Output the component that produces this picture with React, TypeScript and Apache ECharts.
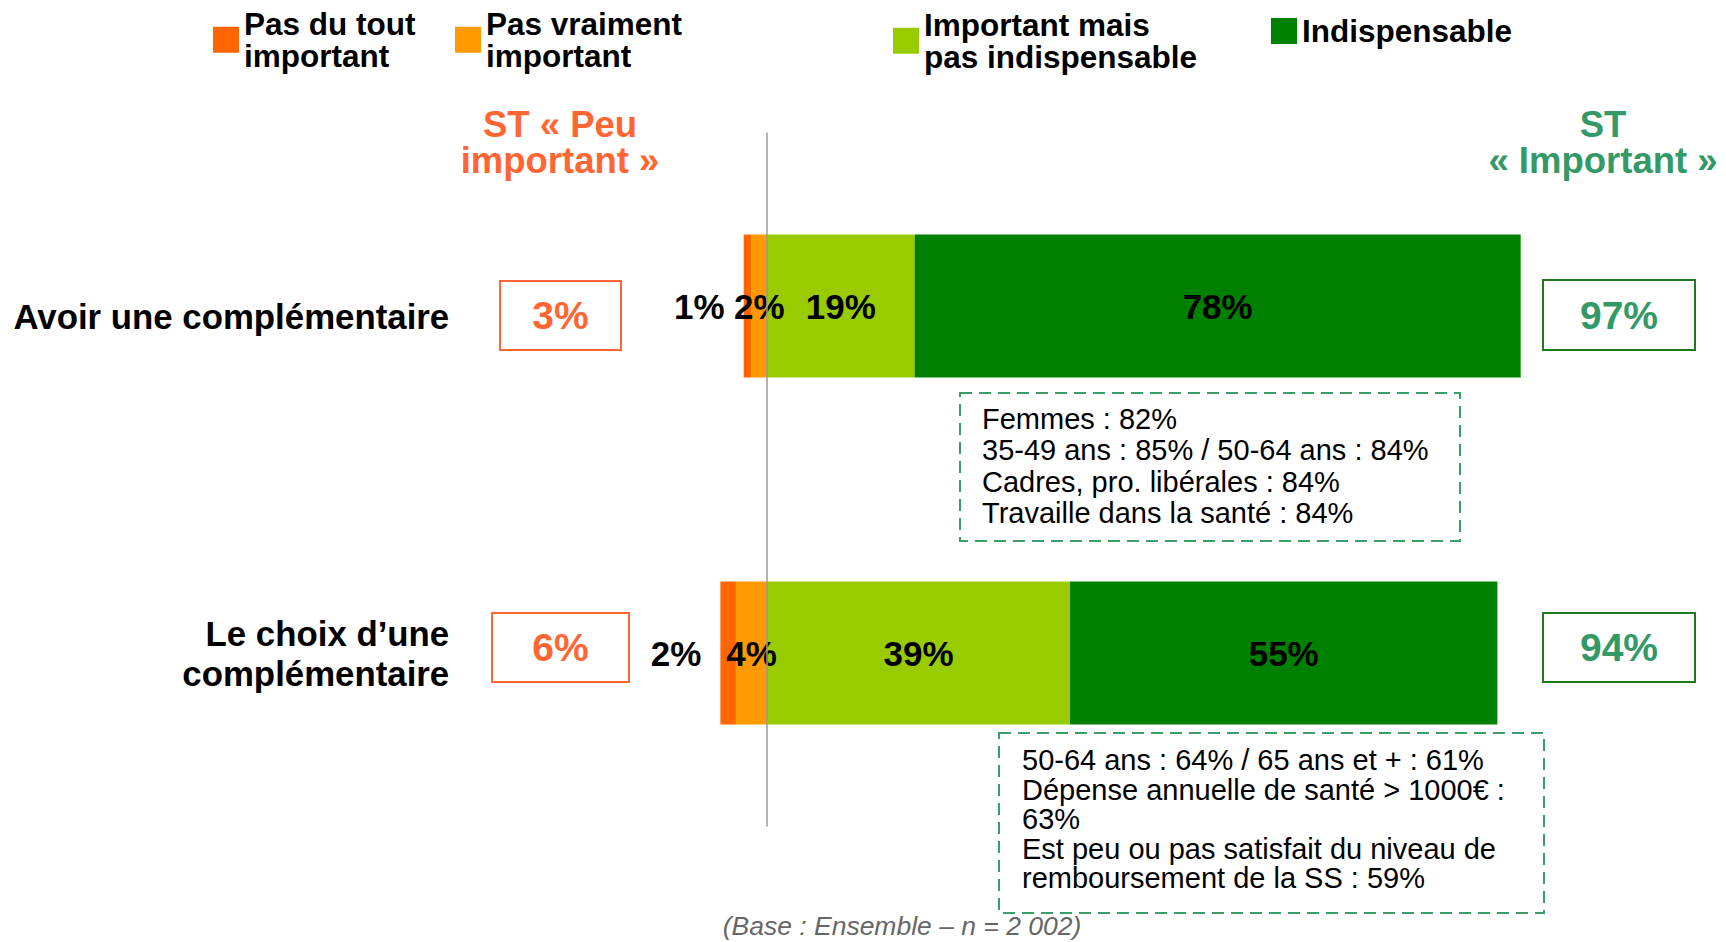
import React, { useEffect, useRef } from "react";
import * as echarts from "echarts";

const categories = ["Avoir une complémentaire", "Le choix d’une\ncomplémentaire"];
const seriesNames = [
  "Pas du tout\nimportant",
  "Pas vraiment\nimportant",
  "Important mais\npas indispensable",
  "Indispensable",
];
// "Peu important" answers are drawn on the left of the zero line
const pasDuTout = [1, 2];
const pasVraiment = [2, 4];
const importantMais = [19, 39];
const indispensable = [78, 55];
const seriesColors = ["#FF6600", "#FF9900", "#99CC00", "#008000"];

const stPeuTitle = "ST « Peu\nimportant »";
const stImportantTitle = "ST\n« Important »";

const notesAvoir = [
  "Femmes : 82%",
  "35-49 ans : 85% / 50-64 ans : 84%",
  "Cadres, pro. libérales : 84%",
  "Travaille dans la santé : 84%",
];
const notesChoix = [
  "50-64 ans : 64% / 65 ans et + : 61%",
  "Dépense annuelle de santé > 1000€ :",
  "63%",
  "Est peu ou pas satisfait du niveau de",
  "remboursement de la SS : 59%",
];
const baseNote = "(Base : Ensemble – n = 2 002)";

const FONT = "'Liberation Sans', Arial, Helvetica, sans-serif";
const ORANGE_TXT = "#FF6633";
const GREEN_TXT = "#339966";

export default function App() {
  const ref = useRef<HTMLDivElement>(null);

  useEffect(() => {
    if (!ref.current) return;
    const chart = echarts.init(ref.current, undefined, { renderer: "svg" });
    const stLow = pasDuTout.map((v, i) => v + pasVraiment[i]);
    const stHigh = importantMais.map((v, i) => v + indispensable[i]);

    const legendLeft = [213, 455, 893, 1271];
    const legendTop = [8, 8, 9, 15];

    const legends = seriesNames.map((name, k) => ({
      data: [name],
      left: legendLeft[k],
      top: legendTop[k],
      padding: 0,
      icon: "rect",
      itemWidth: 26,
      itemHeight: 26,
      selectedMode: false,
      textStyle: {
        fontFamily: FONT,
        fontSize: 31.5,
        fontWeight: "bold",
        color: "#000",
        lineHeight: 31.5,
      },
    }));

    const labelBase = {
      show: true,
      fontFamily: FONT,
      fontSize: 35,
      fontWeight: "bold",
      color: "#000",
      textBorderWidth: 0,
      formatter: (p: any) => `${Math.abs(p.value)}%`,
    };

    // stacking order: nearest to zero first
    const series: any[] = [
      {
        type: "bar",
        name: seriesNames[1],
        stack: "total",
        data: pasVraiment.map((v) => -v),
        barWidth: 143,
        itemStyle: { color: seriesColors[1] },
        emphasis: { disabled: true },
        label: { ...labelBase, position: "inside" },
        markLine: {
          silent: true,
          symbol: ["none", "none"],
          label: { show: false },
          lineStyle: { color: "#9A9A9A", width: 1.5, type: "solid" },
          data: [{ xAxis: 0 }],
        },
      },
      {
        type: "bar",
        name: seriesNames[0],
        stack: "total",
        data: pasDuTout.map((v) => -v),
        barWidth: 143,
        itemStyle: { color: seriesColors[0] },
        emphasis: { disabled: true },
        label: { ...labelBase, position: "left", distance: 19 },
      },
      {
        type: "bar",
        name: seriesNames[2],
        stack: "total",
        data: importantMais,
        barWidth: 143,
        itemStyle: { color: seriesColors[2] },
        emphasis: { disabled: true },
        label: { ...labelBase, position: "inside" },
      },
      {
        type: "bar",
        name: seriesNames[3],
        stack: "total",
        data: indispensable,
        barWidth: 143,
        itemStyle: { color: seriesColors[3] },
        emphasis: { disabled: true },
        label: { ...labelBase, position: "inside" },
      },
    ];

    const boxLeftRects = [
      { x: 500, y: 281, width: 121, height: 69, cx: 560.5, cy: 315.5 },
      { x: 492, y: 613, width: 137, height: 69, cx: 560.5, cy: 647.5 },
    ];
    const boxRightRects = [
      { x: 1543, y: 280, width: 152, height: 70, cx: 1619, cy: 315 },
      { x: 1543, y: 613, width: 152, height: 69, cx: 1619, cy: 647.5 },
    ];

    const graphics: any[] = [
      {
        type: "text",
        x: 560,
        y: 142.5,
        style: {
          text: stPeuTitle,
          fill: ORANGE_TXT,
          font: `bold 36.5px ${FONT}`,
          lineHeight: 36.5,
          textAlign: "center",
          textVerticalAlign: "middle",
        },
      },
      {
        type: "text",
        x: 1603,
        y: 142.5,
        style: {
          text: stImportantTitle,
          fill: GREEN_TXT,
          font: `bold 36.5px ${FONT}`,
          lineHeight: 36.5,
          textAlign: "center",
          textVerticalAlign: "middle",
        },
      },
    ];
    stLow.forEach((v, i) => {
      const b = boxLeftRects[i];
      graphics.push({
        type: "rect",
        shape: { x: b.x, y: b.y, width: b.width, height: b.height },
        style: { fill: "#fff", stroke: ORANGE_TXT, lineWidth: 2 },
      });
      graphics.push({
        type: "text",
        x: b.cx,
        y: b.cy,
        style: {
          text: `${v}%`,
          fill: ORANGE_TXT,
          font: `bold 39px ${FONT}`,
          textAlign: "center",
          textVerticalAlign: "middle",
        },
      });
    });
    stHigh.forEach((v, i) => {
      const b = boxRightRects[i];
      graphics.push({
        type: "rect",
        shape: { x: b.x, y: b.y, width: b.width, height: b.height },
        style: { fill: "#fff", stroke: "#1F7A1F", lineWidth: 2 },
      });
      graphics.push({
        type: "text",
        x: b.cx,
        y: b.cy,
        style: {
          text: `${v}%`,
          fill: GREEN_TXT,
          font: `bold 39px ${FONT}`,
          textAlign: "center",
          textVerticalAlign: "middle",
        },
      });
    });

    graphics.push({
      type: "rect",
      shape: { x: 960, y: 393, width: 500, height: 148 },
      style: { fill: "#fff", stroke: "#3A9E6A", lineWidth: 2, lineDash: [12, 7] },
    });
    graphics.push({
      type: "text",
      x: 982,
      y: 466,
      style: {
        text: notesAvoir.join("\n"),
        fill: "#000",
        font: `29px ${FONT}`,
        lineHeight: 31.3,
        textAlign: "left",
        textVerticalAlign: "middle",
      },
    });
    graphics.push({
      type: "rect",
      shape: { x: 999, y: 733, width: 545, height: 180 },
      style: { fill: "#fff", stroke: "#3A9E6A", lineWidth: 2, lineDash: [12, 7] },
    });
    graphics.push({
      type: "text",
      x: 1022,
      y: 819,
      style: {
        text: notesChoix.join("\n"),
        fill: "#000",
        font: `29px ${FONT}`,
        lineHeight: 29.5,
        textAlign: "left",
        textVerticalAlign: "middle",
      },
    });
    graphics.push({
      type: "text",
      x: 902,
      y: 926,
      style: {
        text: baseNote,
        fill: "#666",
        font: `italic 26.5px ${FONT}`,
        textAlign: "center",
        textVerticalAlign: "middle",
      },
    });

    chart.setOption({
      animation: false,
      backgroundColor: "#fff",
      legend: legends,
      grid: { left: 456.2, right: 182, top: 132.5, bottom: 115.5, containLabel: false },
      xAxis: {
        type: "value",
        min: -40,
        max: 100,
        show: false,
        splitLine: { show: false },
      },
      yAxis: {
        type: "category",
        data: categories,
        inverse: true,
        axisLine: { show: false },
        axisTick: { show: false },
        splitLine: { show: false },
        axisLabel: {
          margin: 7,
          fontFamily: FONT,
          fontSize: 34.8,
          fontWeight: "bold",
          color: "#000",
          lineHeight: 40,
          formatter: (v: string, i: number) => (i === 0 ? `{e| }\n{s|${v}}` : v),
          rich: {
            e: { fontSize: 10, lineHeight: 20 },
            s: { fontFamily: FONT, fontSize: 34.8, fontWeight: "bold", color: "#000", lineHeight: 40 },
          },
        },
      },
      series,
      graphic: { elements: graphics },
    });

    return () => chart.dispose();
  }, []);

  return (
    <div
      ref={ref}
      style={{ position: "absolute", left: 0, top: 0, width: 1726, height: 942, background: "#fff" }}
    />
  );
}
